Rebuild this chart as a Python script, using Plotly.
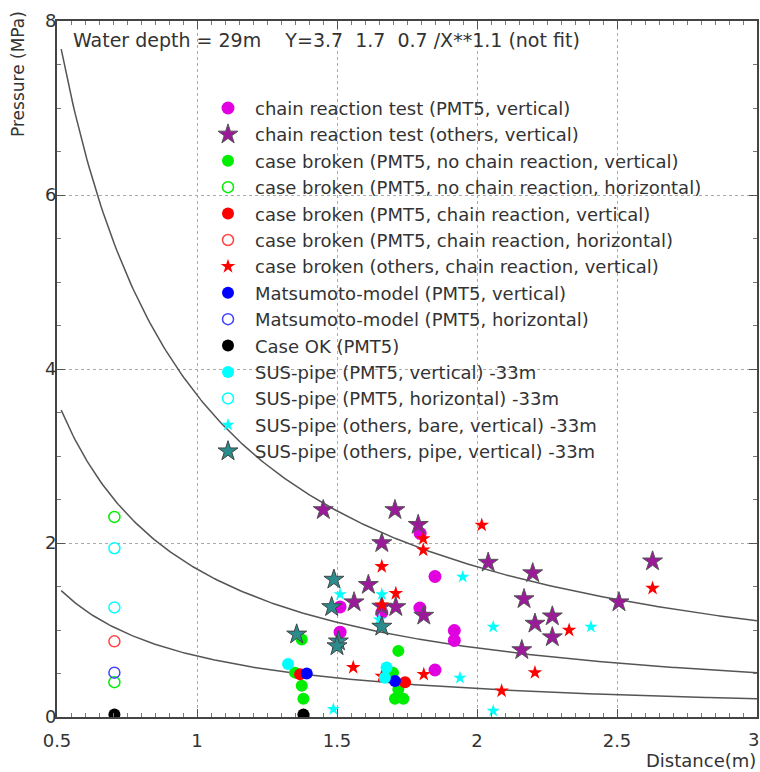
import numpy as np
import plotly.graph_objects as go

# ---- data -------------------------------------------------------------
crt_pmt5_x = [1.511, 1.511, 1.66, 1.797, 1.796, 1.85, 1.85, 1.919, 1.919]
crt_pmt5_y = [1.265, 0.975, 1.20, 2.11, 1.253, 1.615, 0.54, 0.994, 0.88]

crt_oth_x = [1.451, 1.707, 1.79, 1.66, 1.612, 1.561, 1.66, 1.71, 1.81, 2.04,
             2.199, 2.627, 2.168, 2.507, 2.269, 2.207, 2.269, 2.16]
crt_oth_y = [2.38, 2.38, 2.21, 2.0, 1.52, 1.32, 1.27, 1.265, 1.166, 1.775,
             1.654, 1.79, 1.356, 1.32, 1.158, 1.074, 0.918, 0.77]

cb_nochain_v_x = [1.374, 1.35, 1.374, 1.38, 1.719, 1.70, 1.719, 1.707, 1.737]
cb_nochain_v_y = [0.89, 0.51, 0.36, 0.21, 0.76, 0.51, 0.32, 0.21, 0.21]

cb_nochain_h_x = [0.705, 0.705]
cb_nochain_h_y = [2.30, 0.40]

cb_chain_v_x = [1.368, 1.743]
cb_chain_v_y = [0.49, 0.40]

cb_chain_h_x = [0.705]
cb_chain_h_y = [0.87]

cb_oth_x = [1.808, 1.808, 1.66, 1.71, 1.66, 1.558, 1.66, 1.81, 2.017, 2.627,
            2.329, 2.207, 2.088]
cb_oth_y = [2.05, 1.92, 1.73, 1.42, 1.29, 0.57, 0.47, 0.49, 2.206, 1.48,
            0.998, 0.51, 0.30]

mm_v_x = [1.392, 1.707]
mm_v_y = [0.50, 0.415]

mm_h_x = [0.705]
mm_h_y = [0.51]

ok_x = [0.705, 1.38]
ok_y = [0.03, 0.03]

sus_v_x = [1.325, 1.677, 1.671]
sus_v_y = [0.61, 0.57, 0.45]

sus_h_x = [0.705, 0.705]
sus_h_y = [1.94, 1.26]

sus_bare_x = [1.511, 1.66, 1.651, 1.949, 2.058, 2.407, 1.939, 2.058, 1.487]
sus_bare_y = [1.41, 1.41, 1.12, 1.61, 1.036, 1.036, 0.45, 0.07, 0.09]

sus_pipe_x = [1.489, 1.481, 1.66, 1.356, 1.505, 1.50]
sus_pipe_y = [1.58, 1.265, 1.04, 0.95, 0.87, 0.815]

curve_coeffs = [3.7, 1.7, 0.7]
curve_power = 1.1
curve_x_range = [0.515, 3.0]

x_ticks = [0.5, 1, 1.5, 2, 2.5, 3]
x_ticklabels = ["0.5", "1", "1.5", "2", "2.5", "3"]
y_ticks = [0, 2, 4, 6, 8]
y_ticklabels = ["0", "2", "4", "6", "8"]

# ---- figure -----------------------------------------------------------
FONT = "DejaVu Sans"
TXT = "#333333"
L, R, T, B = 57, 3, 21, 55
W, H = 760, 772
PW, PH = W - L - R, H - T - B


def px_x(px):
    return (px - L) / PW


def px_y(py):
    return (H - B - py) / PH


fig = go.Figure()

cx = np.linspace(curve_x_range[0], curve_x_range[1], 300)
for a in curve_coeffs:
    fig.add_trace(go.Scatter(x=cx, y=a / cx ** curve_power, mode="lines",
                             line=dict(color="#555555", width=1.5),
                             showlegend=False, hoverinfo="skip"))

series = [
    ("chain reaction test (PMT5, vertical)", crt_pmt5_x, crt_pmt5_y,
     dict(symbol="circle", size=13, color="#e000e0", line=dict(width=0))),
    ("chain reaction test (others, vertical)", crt_oth_x, crt_oth_y,
     dict(symbol="star", size=15, color="#9a1a9a", line=dict(color="#555555", width=1))),
    ("case broken (PMT5, no chain reaction, vertical)", cb_nochain_v_x, cb_nochain_v_y,
     dict(symbol="circle", size=12, color="#00ee00", line=dict(width=0))),
    ("case broken (PMT5, no chain reaction, horizontal)", cb_nochain_h_x, cb_nochain_h_y,
     dict(symbol="circle-open", size=11, color="#00ee00", line=dict(width=1.5))),
    ("case broken (PMT5, chain reaction, vertical)", cb_chain_v_x, cb_chain_v_y,
     dict(symbol="circle", size=12, color="#ff0000", line=dict(width=0))),
    ("case broken (PMT5, chain reaction, horizontal)", cb_chain_h_x, cb_chain_h_y,
     dict(symbol="circle-open", size=11, color="#ff4444", line=dict(width=1.5))),
    ("case broken (others, chain reaction, vertical)", cb_oth_x, cb_oth_y,
     dict(symbol="star", size=11, color="#ff0000", line=dict(width=0))),
    ("Matsumoto-model (PMT5, vertical)", mm_v_x, mm_v_y,
     dict(symbol="circle", size=12, color="#0000ff", line=dict(width=0))),
    ("Matsumoto-model (PMT5, horizontal)", mm_h_x, mm_h_y,
     dict(symbol="circle-open", size=11, color="#4444ff", line=dict(width=1.5))),
    ("Case OK (PMT5)", ok_x, ok_y,
     dict(symbol="circle", size=12, color="#000000", line=dict(width=0))),
    ("SUS-pipe (PMT5, vertical) -33m", sus_v_x, sus_v_y,
     dict(symbol="circle", size=12, color="#00ffff", line=dict(width=0))),
    ("SUS-pipe (PMT5, horizontal) -33m", sus_h_x, sus_h_y,
     dict(symbol="circle-open", size=11, color="#00ffff", line=dict(width=1.5))),
    ("SUS-pipe (others, bare, vertical) -33m", sus_bare_x, sus_bare_y,
     dict(symbol="star", size=10, color="#00ffff", line=dict(width=0))),
    ("SUS-pipe (others, pipe, vertical) -33m", sus_pipe_x, sus_pipe_y,
     dict(symbol="star", size=15, color="#2a8c8c", line=dict(color="#444444", width=1))),
]
for name, xs, ys, mk in series:
    fig.add_trace(go.Scatter(x=xs, y=ys, mode="markers", name=name, marker=mk,
                             cliponaxis=True))

axis_common = dict(showline=True, linecolor="#444444", linewidth=2, mirror="ticks",
                   ticks="inside", ticklen=8, tickcolor="#555555", tickwidth=1,
                   showgrid=True, gridcolor="#aaaaaa", griddash="dot", gridwidth=1,
                   zeroline=False, automargin=False,
                   tickfont=dict(family=FONT, size=18, color=TXT))

# the last x tick label sits on the figure's right edge: it is drawn as an
# annotation anchored to that edge so that it is not cut off
fig.update_xaxes(range=[0.5, 3], tickvals=x_ticks[:-1], ticktext=x_ticklabels[:-1],
                 ticklabelstandoff=6,
                 minor=dict(dtick=0.05, ticks="inside", ticklen=4, tickcolor="#777777",
                            showgrid=False),
                 **axis_common)
fig.update_yaxes(range=[0, 8], tickvals=y_ticks, ticktext=y_ticklabels,
                 ticklabelstandoff=-5,
                 minor=dict(dtick=0.5, ticks="inside", ticklen=4, tickcolor="#777777",
                            showgrid=False),
                 **axis_common)

fig.update_layout(
    width=W, height=H,
    margin=dict(l=L, r=R, t=T, b=B),
    paper_bgcolor="white", plot_bgcolor="white",
    font=dict(family=FONT, size=18, color=TXT),
    legend=dict(x=px_x(201), y=px_y(89.8), xanchor="left", yanchor="top",
                itemwidth=44,
                bgcolor="rgba(0,0,0,0)", borderwidth=0,
                font=dict(family=FONT, size=18, color=TXT)),
    annotations=[
        dict(text="Water depth = 29m    Y=3.7  1.7  0.7 /X**1.1 (not fit)",
             xref="paper", yref="paper", x=px_x(71), y=px_y(40),
             xanchor="left", yanchor="middle", showarrow=False,
             font=dict(family=FONT, size=19, color=TXT)),
        dict(text=x_ticklabels[-1], xref="paper", yref="paper", x=px_x(760),
             y=px_y(739), xanchor="right", yanchor="middle", showarrow=False,
             borderpad=0, font=dict(family=FONT, size=18, color=TXT)),
        dict(text="Distance(m)", xref="paper", yref="paper", x=1.0, y=px_y(772),
             xanchor="right", yanchor="bottom", showarrow=False, borderpad=0,
             font=dict(family=FONT, size=18, color=TXT)),
        dict(text="Pressure (MPa)", xref="paper", yref="paper", x=px_x(18),
             y=px_y(9), xanchor="center", yanchor="top", textangle=-90,
             showarrow=False, font=dict(family=FONT, size=17, color=TXT)),
    ],
)

fig.write_html("out.html", config={"displayModeBar": False},
               post_script="document.body.style.margin='0';document.body.style.overflow='hidden';")
